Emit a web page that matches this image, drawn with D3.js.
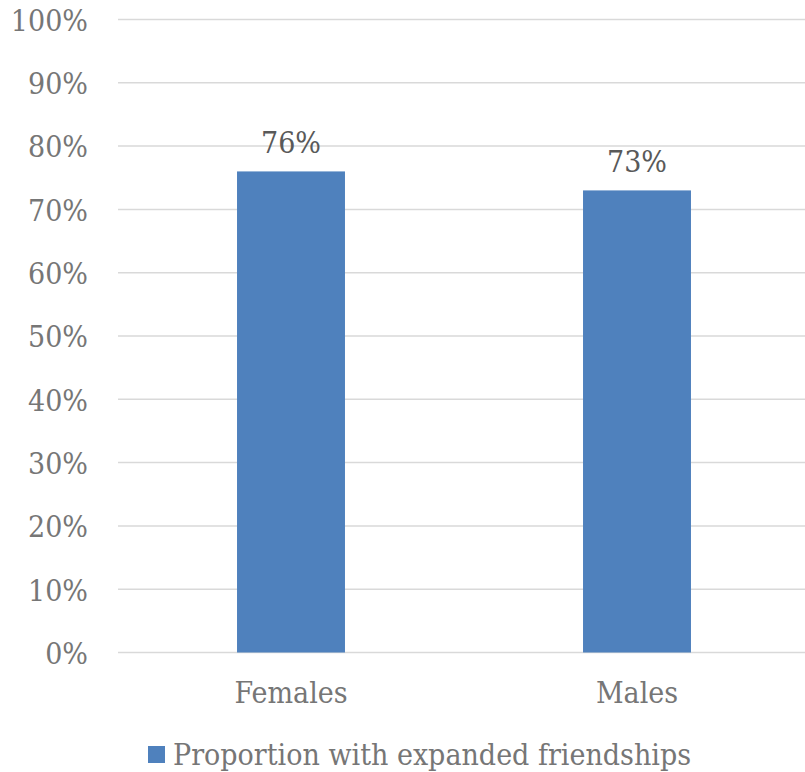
<!DOCTYPE html>
<html>
<head>
<meta charset="utf-8">
<script src="https://cdn.jsdelivr.net/npm/d3@7"></script>
<style>
  html, body { margin: 0; padding: 0; background: #fff; }
  svg text { font-family: "DejaVu Serif Condensed", "DejaVu Serif", serif; }
</style>
</head>
<body>
<svg id="chart" width="805" height="772"></svg>
<script>
// Share of respondents reporting expanded friendships, by sex
const categories = ["Females", "Males"];
const values = [0.76, 0.73];
const seriesName = "Proportion with expanded friendships";
const yTicks = [0, 0.1, 0.2, 0.3, 0.4, 0.5, 0.6, 0.7, 0.8, 0.9, 1.0];

const svg = d3.select("#chart");
const W = 805, H = 772;
const plot = { left: 118, right: 810, top: 19.5, bottom: 652.5 };
const fontSize = 30;
const fontFamily = '"DejaVu Serif Condensed", "DejaVu Serif", serif';

const x = d3.scaleBand()
  .domain(categories)
  .range([plot.left, plot.right])
  .paddingInner(0.688)
  .paddingOuter(0.344);

const y = d3.scaleLinear()
  .domain([0, 1])
  .range([plot.bottom, plot.top]);

const fmt = d3.format(".0%");

// Horizontal gridlines
svg.append("g")
  .selectAll("line")
  .data(yTicks)
  .join("line")
  .attr("x1", plot.left)
  .attr("x2", W)
  .attr("y1", d => y(d))
  .attr("y2", d => y(d))
  .attr("stroke", "#d9d9d9")
  .attr("stroke-width", 1.5);

// Y axis labels
const yAxis = d3.axisLeft(y).tickValues(yTicks).tickFormat(fmt).tickSize(0).tickPadding(0);
const yg = svg.append("g")
  .attr("transform", `translate(88,0)`)
  .call(yAxis);
yg.select(".domain").remove();
yg.selectAll("text")
  .attr("fill", "#767676")
  .attr("font-size", fontSize)
  .attr("dy", "0.36em")
  .style("font-family", fontFamily);

// Bars
svg.append("g")
  .selectAll("rect")
  .data(categories)
  .join("rect")
  .attr("x", d => x(d))
  .attr("width", x.bandwidth())
  .attr("y", (d, i) => y(values[i]))
  .attr("height", (d, i) => y(0) - y(values[i]))
  .attr("fill", "#4f81bd");

// Value labels
svg.append("g")
  .selectAll("text")
  .data(categories)
  .join("text")
  .attr("x", d => x(d) + x.bandwidth() / 2)
  .attr("y", (d, i) => y(values[i]) - 18)
  .attr("text-anchor", "middle")
  .attr("font-size", fontSize)
  .attr("fill", "#595959")
  .text((d, i) => fmt(values[i]));

// Category axis labels
const xAxis = d3.axisBottom(x).tickSize(0).tickPadding(0);
const xg = svg.append("g")
  .attr("transform", `translate(0,${plot.bottom})`)
  .call(xAxis);
xg.select(".domain").remove();
xg.selectAll("text")
  .attr("fill", "#767676")
  .attr("font-size", fontSize)
  .attr("y", 50)
  .attr("dy", 0)
  .style("font-family", fontFamily);

// Legend
const legend = svg.append("g").attr("transform", "translate(148,746)");
legend.append("rect")
  .attr("width", 17)
  .attr("height", 17)
  .attr("fill", "#4f81bd");
legend.append("text")
  .attr("x", 25)
  .attr("y", 19)
  .attr("font-size", fontSize)
  .attr("fill", "#767676")
  .text(seriesName);
</script>
</body>
</html>
